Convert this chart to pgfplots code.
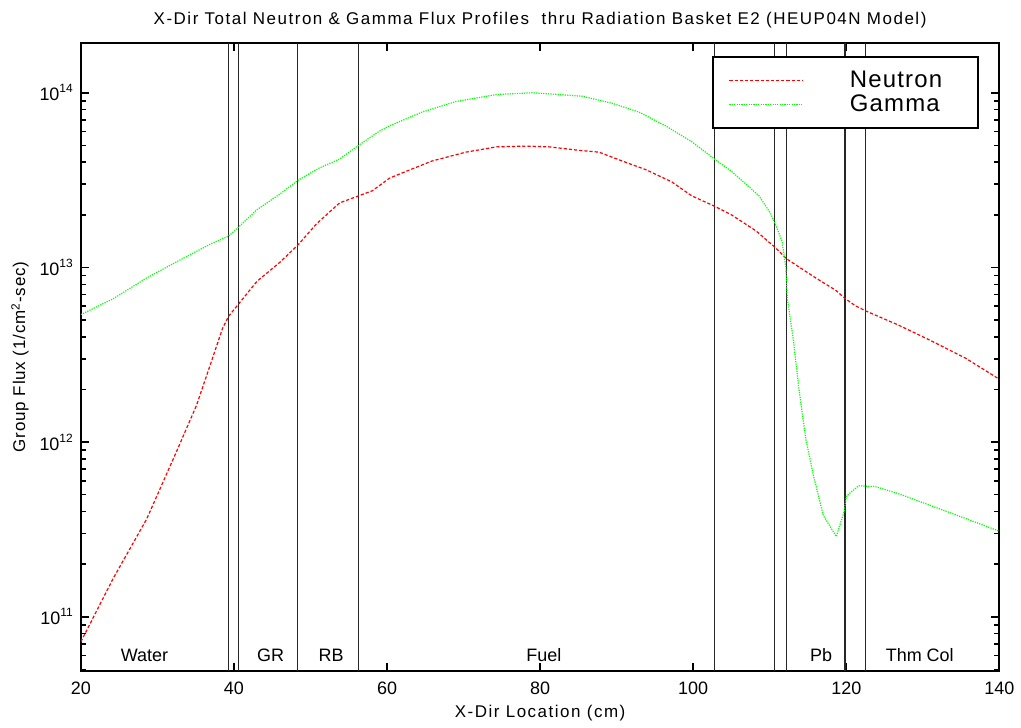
\documentclass[border=0pt]{standalone}
\usepackage{pgfplots}
\pgfplotsset{compat=1.18}
\usepackage{fontspec}
\setmainfont{Liberation Sans}
\newfontfamily\legfont[LetterSpace=5]{Liberation Sans}
\newfontfamily\spacedfont[LetterSpace=9]{Liberation Sans}

\definecolor{nred}{RGB}{255,0,0}
\definecolor{ggreen}{RGB}{0,255,0}

\begin{document}
\begin{tikzpicture}
\begin{axis}[
    scale only axis,
    width=460pt, height=314.5pt,
    xmin=20, xmax=140,
    ymode=log, ymin=4.9e10, ymax=1.93e14,
    xtick={20,40,...,140},
    ytick={1e11,1e12,1e13,1e14},
    yticklabels={10\textsuperscript{11},10\textsuperscript{12},10\textsuperscript{13},10\textsuperscript{14}},
    minor ytick={5e10,6e10,7e10,8e10,9e10,
                 2e11,3e11,4e11,5e11,6e11,7e11,8e11,9e11,
                 2e12,3e12,4e12,5e12,6e12,7e12,8e12,9e12,
                 2e13,3e13,4e13,5e13,6e13,7e13,8e13,9e13},
    /pgf/number format/assume math mode=true,
    tick align=inside,
    major tick length=4pt, minor tick length=2.5pt,
    every tick/.style={black, line width=0.8pt},
    axis line style={line width=1pt},
    tick label style={font=\fontsize{9}{10}\selectfont},
    xticklabel style={yshift=-2pt},
    title={X-Dir Total Neutron \& Gamma Flux Profiles\ \ thru Radiation Basket E2 (HEUP04N Model)},
    every axis title/.style={at={(axis description cs:0.5,1.037)}, anchor=center,
        font=\spacedfont\fontsize{8.5}{10}\selectfont},
    xlabel={X-Dir Location (cm)},
    ylabel={Group Flux (1/cm\textsuperscript{2}-sec)},
    every axis x label/.style={at={(axis description cs:0.5,-0.0668)}, anchor=center,
        font=\spacedfont\fontsize{8.5}{10}\selectfont},
    every axis y label/.style={at={(axis description cs:-0.0663,0.5)}, rotate=90, anchor=center,
        font=\legfont\fontsize{8.5}{10}\selectfont},
    legend style={at={(0.978,0.979)}, anchor=north east, draw=black, line width=1pt, fill=white,
        font=\legfont\fontsize{12}{14}\selectfont, inner xsep=8pt, inner ysep=5pt, row sep=-2pt,
        nodes={inner sep=2pt}},
    legend cell align=left,
]

% zone boundaries
\pgfplotsinvokeforeach{39.3,40.6,48.3,56.3,102.8,110.6,112.2,119.8,122.5}{
  \addplot[black!85, line width=0.75pt, forget plot] coordinates {(#1,4.9e10) (#1,1.93e14)};
}

% Neutron
\addplot[nred, line width=0.6pt, dash pattern=on 1.6pt off 1pt,
    legend image code/.code={\draw[nred, line width=0.6pt, dash pattern=on 1.6pt off 1pt] (0pt,0pt) -- (37pt,0pt); \path (58pt,0pt);}] coordinates {
(20,7.19e10) (24.2,1.65e11) (28.6,3.63e11) (32.5,8.83e11) (35.1,1.62e12)
(37.2,3.02e12) (38.5,4.47e12) (39.3,5.25e12) (40.6,6.17e12) (43.0,8.32e12)
(46.0,1.07e13) (48.4,1.35e13) (50.8,1.78e13) (53.8,2.34e13) (56.3,2.57e13)
(58.1,2.75e13) (60.3,3.24e13) (62.5,3.55e13) (65.9,4.07e13) (70.3,4.57e13)
(74.3,4.90e13) (78.2,4.95e13) (81.2,4.90e13) (85.1,4.68e13) (87.7,4.57e13)
(90.7,4.07e13) (93.8,3.63e13) (97.2,3.09e13) (99.8,2.57e13) (102.8,2.24e13)
(105.0,2.00e13) (108.2,1.62e13) (110.8,1.29e13) (112.2,1.12e13) (116.0,8.71e12)
(118.6,7.41e12) (119.9,6.61e12) (121.2,6.03e12) (122.6,5.62e12) (126.8,4.68e12)
(131.1,3.80e12) (135.6,3.02e12) (140,2.29e12)
};
\addlegendentry{Neutron\rule{8pt}{0pt}}

% Gamma
\addplot[ggreen, line width=0.6pt, dash pattern=on 0.6pt off 0.6pt,
    legend image code/.code={\draw[ggreen, line width=0.6pt, dash pattern=on 0.6pt off 0.6pt] (0pt,0pt) -- (37pt,0pt); \path (58pt,0pt);}] coordinates {
(20,5.37e12) (24.2,6.61e12) (28.6,8.71e12) (32.9,1.10e13) (37.2,1.38e13)
(39.3,1.51e13) (40.6,1.70e13) (43.0,2.14e13) (46.0,2.63e13) (48.4,3.16e13)
(51.2,3.72e13) (53.8,4.17e13) (56.3,5.01e13) (59.0,6.03e13) (60.3,6.46e13)
(64.6,7.76e13) (69.0,8.91e13) (74.3,9.77e13) (79.0,1.00e14) (82.5,9.77e13)
(85.5,9.55e13) (89.4,8.71e13) (92.9,7.76e13) (96.4,6.46e13) (99.8,5.25e13)
(102.8,4.17e13) (105.0,3.55e13) (108.6,2.57e13) (110.1,2.04e13) (110.9,1.70e13)
(111.6,1.41e13) (112.1,1.00e13) (112.3,6.61e12) (113.1,3.80e12) (113.8,2.04e12)
(114.7,1.05e12) (115.7,6.46e11) (117.0,3.80e11) (118.7,2.88e11) (119.7,3.98e11)
(120.0,4.90e11) (121.6,5.62e11) (123.8,5.56e11) (126.8,5.07e11) (133.3,3.98e11)
(140,3.09e11)
};
\addlegendentry{Gamma}

% zone names
\begin{scope}[font=\fontsize{9}{10}\selectfont]
\node at (axis cs:28.3,6e10) {Water};
\node at (axis cs:44.8,6e10) {GR};
\node at (axis cs:52.7,6e10) {RB};
\node at (axis cs:80.5,6e10) {Fuel};
\node at (axis cs:116.7,6e10) {Pb};
\node at (axis cs:129.6,6e10) {Thm Col};
\end{scope}
\end{axis}
\path ([shift={(-40.5pt,-27pt)}]current axis.south west) rectangle ([shift={(10pt,21.5pt)}]current axis.north east);
\end{tikzpicture}
\end{document}
